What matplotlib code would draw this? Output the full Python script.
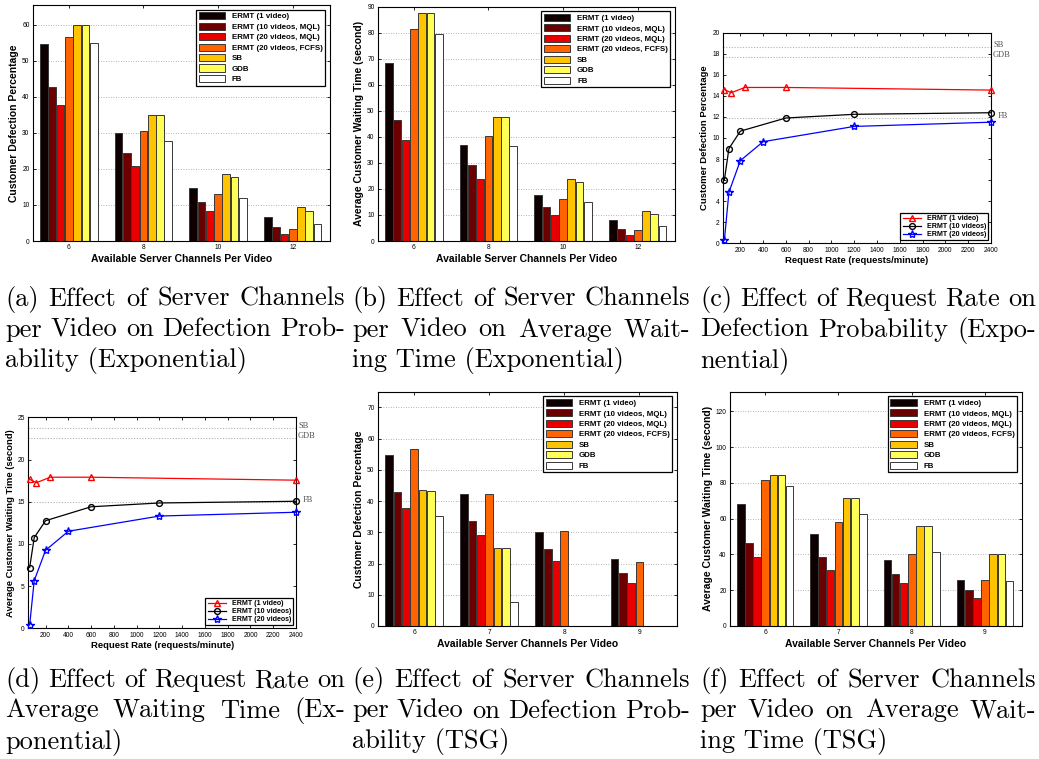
"""Six-panel ERMT results figure (defection / waiting time) with captions."""
import matplotlib
matplotlib.use("Agg")
import matplotlib.pyplot as plt
import numpy as np

W, H = 1039, 759

# ---- data -----------------------------------------------------------------
series_labels = ["ERMT (1 video)", "ERMT (10 videos, MQL)", "ERMT (20 videos, MQL)",
                 "ERMT (20 videos, FCFS)", "SB", "GDB", "FB"]
bar_colors = ["#0e0000", "#6c0000", "#e80000", "#ff6400", "#ffc400", "#ffff55", "#ffffff"]

channels_exp = ["6", "8", "10", "12"]
channels_tsg = ["6", "7", "8", "9"]

# (a) defection percentage, exponential; one row per series
a_defect = [[54.6, 30.1, 14.6, 6.6],
            [42.7, 24.5, 10.9, 3.9],
            [37.7, 20.8, 8.3, 2.0],
            [56.5, 30.4, 13.0, 3.4],
            [59.9, 34.9, 18.7, 9.4],
            [59.9, 35.1, 17.8, 8.4],
            [54.9, 27.7, 11.9, 4.8]]
# (b) average waiting time, exponential
b_wait = [[68.5, 36.9, 17.8, 7.9],
          [46.5, 29.3, 13.1, 4.6],
          [38.7, 23.8, 9.9, 2.3],
          [81.4, 40.2, 16.1, 4.1],
          [87.7, 47.5, 23.7, 11.6],
          [87.5, 47.5, 22.5, 10.2],
          [79.4, 36.6, 14.9, 5.8]]
# (e) defection percentage, TSG
e_defect = [[54.6, 42.1, 30.1, 21.5],
            [42.8, 33.5, 24.7, 16.9],
            [37.7, 29.1, 20.8, 13.7],
            [56.6, 42.2, 30.4, 20.5],
            [43.4, 25.0, 0.0, 0.0],
            [43.2, 25.1, 0.0, 0.0],
            [35.1, 7.6, 0.0, 0.0]]
# (f) average waiting time, TSG
f_wait = [[68.4, 51.7, 36.7, 25.7],
          [46.3, 38.4, 29.0, 20.0],
          [38.4, 31.3, 23.8, 15.9],
          [81.5, 58.1, 40.3, 25.7],
          [84.6, 71.5, 56.0, 40.3],
          [84.6, 71.5, 56.0, 40.3],
          [78.5, 62.9, 41.2, 25.1]]

# (c)/(d) request-rate sweeps
rate_1 = [60, 120, 240, 600, 2400]
rate_10 = [60, 100, 200, 600, 1200, 2400]
rate_20 = [60, 100, 200, 400, 1200, 2400]
c_def_1 = [14.6, 14.3, 14.8, 14.8, 14.55]
c_def_10 = [6.0, 9.0, 10.65, 11.9, 12.25, 12.4]
c_def_20 = [0.3, 4.85, 7.85, 9.65, 11.1, 11.5]
c_ref = {"SB": 18.67, "GDB": 17.72, "FB": 11.93}
d_wait_1 = [17.65, 17.25, 17.9, 17.9, 17.55]
d_wait_10 = [7.2, 10.75, 12.75, 14.4, 14.85, 15.05]
d_wait_20 = [0.4, 5.65, 9.25, 11.5, 13.3, 13.75]
d_ref = {"SB": 23.7, "GDB": 22.5, "FB": 14.97}

captions = {
    "a": ["(a) Effect of Server Channels", "per Video on Defection Prob-", "ability (Exponential)"],
    "b": ["(b) Effect of Server Channels", "per Video on Average Wait-", "ing Time (Exponential)"],
    "c": ["(c) Effect of Request Rate on", "Defection Probability (Expo-", "nential)"],
    "d": ["(d) Effect of Request Rate on", "Average Waiting Time (Ex-", "ponential)"],
    "e": ["(e) Effect of Server Channels", "per Video on Defection Prob-", "ability (TSG)"],
    "f": ["(f) Effect of Server Channels", "per Video on Average Wait-", "ing Time (TSG)"],
}

SANS = "Liberation Sans"
SERIF = "cmr10"


def px_axes(fig, left, top, right, bottom):
    return fig.add_axes([left / W, 1 - bottom / H, (right - left) / W, (bottom - top) / H])


def style_box(ax):
    for s in ax.spines.values():
        s.set_linewidth(0.8)
        s.set_color("black")
    ax.tick_params(direction="in", length=2.5, width=0.6, top=True, right=True,
                   labelsize=4.8, pad=2.5)
    for lab in ax.get_xticklabels() + ax.get_yticklabels():
        lab.set_fontfamily(SANS)


def bar_panel(fig, rect, values, groups, ylim, yticks, ylabel):
    ax = px_axes(fig, *rect)
    x = np.arange(len(groups))
    n = len(values)
    step = 0.111
    for i, (vals, col, lab) in enumerate(zip(values, bar_colors, series_labels)):
        ax.bar(x + (i - (n - 1) / 2) * step, vals, width=step * 0.93, color=col,
               edgecolor="#383838", linewidth=0.7, label=lab, zorder=2)
    ax.set_xlim(-0.48, 3.5)
    ax.set_ylim(*ylim)
    ax.set_xticks(x)
    ax.set_xticklabels(groups)
    ax.set_yticks(yticks)
    ax.yaxis.grid(True, linestyle=(0, (1, 2)), color="#9a9a9a", linewidth=0.6)
    ax.set_axisbelow(True)
    style_box(ax)
    ax.set_xlabel("Available Server Channels Per Video", fontfamily=SANS,
                  fontweight="bold", fontsize=7.5, labelpad=1.5)
    ax.set_ylabel(ylabel, fontfamily=SANS, fontweight="bold", fontsize=7.5, labelpad=2)
    leg = ax.legend(loc="upper right", prop={"family": SANS, "weight": "bold", "size": 5.7},
                    fancybox=False, edgecolor="black", framealpha=1, borderpad=0.3,
                    labelspacing=0.28, handlelength=3.3, handleheight=1.0,
                    handletextpad=0.9, borderaxespad=0.6)
    leg.get_frame().set_linewidth(0.9)
    return ax


def rate_panel(fig, rect, y1, y10, y20, refs, ylim, yticks, ylabel):
    ax = px_axes(fig, *rect)
    for name, val in refs.items():
        ax.axhline(val, color="#b0b0b0", linestyle=(0, (1, 1.5)), linewidth=0.8, zorder=1)
        dx = 4.5 if name == "FB" else 1.5
        ax.annotate(name, xy=(1, val), xycoords=("axes fraction", "data"),
                    xytext=(dx, 1.5), textcoords="offset points", va="center",
                    fontsize=6, color="#555555", fontfamily="Liberation Serif")
    kw = dict(markerfacecolor="none", linewidth=0.9, clip_on=False, zorder=3)
    ax.plot(rate_1, y1, "-^", color="red", markersize=5, label="ERMT (1 video)", **kw)
    ax.plot(rate_10, y10, "-o", color="black", markersize=4.2, label="ERMT (10 videos)", **kw)
    ax.plot(rate_20, y20, "-*", color="blue", markersize=6, label="ERMT (20 videos)", **kw)
    ax.set_xlim(48, 2400)
    ax.set_ylim(*ylim)
    ax.set_xticks(np.arange(200, 2401, 200))
    ax.set_yticks(yticks)
    style_box(ax)
    ax.set_xlabel("Request Rate (requests/minute)", fontfamily=SANS, fontweight="bold",
                  fontsize=6.8, labelpad=1.5)
    ax.set_ylabel(ylabel, fontfamily=SANS, fontweight="bold", fontsize=6.8, labelpad=2)
    leg = ax.legend(loc="lower right", prop={"family": SANS, "weight": "bold", "size": 5.1},
                    fancybox=False, edgecolor="black", framealpha=1, borderpad=0.3,
                    labelspacing=0.15, handlelength=2.6, handletextpad=0.8,
                    borderaxespad=0.4)
    leg.get_frame().set_linewidth(0.9)
    return ax


def caption(fig, x0, x1, y0, lines, size=19, lead=30.5):
    r = fig.canvas.get_renderer()
    for i, line in enumerate(lines):
        yb = 1 - (y0 + i * lead) / H
        words = line.split(" ")
        if i == len(lines) - 1:
            fig.text(x0 / W, yb, line, fontsize=size, fontfamily=SERIF, va="baseline")
            continue
        texts = [fig.text(0, yb, w, fontsize=size, fontfamily=SERIF, va="baseline")
                 for w in words]
        widths = [t.get_window_extent(r).width for t in texts]
        gap = ((x1 - x0) - sum(widths)) / (len(words) - 1)
        x = x0
        for t, wd in zip(texts, widths):
            t.set_x(x / W)
            x += wd + gap


fig = plt.figure(figsize=(W / 100, H / 100), dpi=100)

bar_panel(fig, (33, 5, 330, 241), a_defect, channels_exp, (0, 65.5), range(0, 61, 10),
          "Customer Defection Percentage")
bar_panel(fig, (378, 6.7, 675, 241), b_wait, channels_exp, (0, 90), range(0, 91, 10),
          "Average Customer Waiting Time (second)")
rate_panel(fig, (723, 32.7, 991, 243.3), c_def_1, c_def_10, c_def_20, c_ref, (0, 20),
           range(0, 21, 2), "Customer Defection Percentage")
rate_panel(fig, (28.3, 417.3, 296, 628.3), d_wait_1, d_wait_10, d_wait_20, d_ref, (0, 25),
           range(0, 26, 5), "Average Customer Waiting Time (second)")
bar_panel(fig, (378, 391.7, 677, 626), e_defect, channels_tsg, (0, 75), range(0, 71, 10),
          "Customer Defection Percentage")
bar_panel(fig, (730, 391.7, 1021.7, 626), f_wait, channels_tsg, (0, 131), range(0, 121, 20),
          "Average Customer Waiting Time (second)")

cols = [(5, 345), (352, 690), (700, 1036)]
for key, (x0, x1) in zip("abc", cols):
    caption(fig, x0, x1, 306, captions[key])
for key, (x0, x1) in zip("def", cols):
    caption(fig, x0, x1, 687, captions[key])

fig.savefig("out.png", dpi=100)
